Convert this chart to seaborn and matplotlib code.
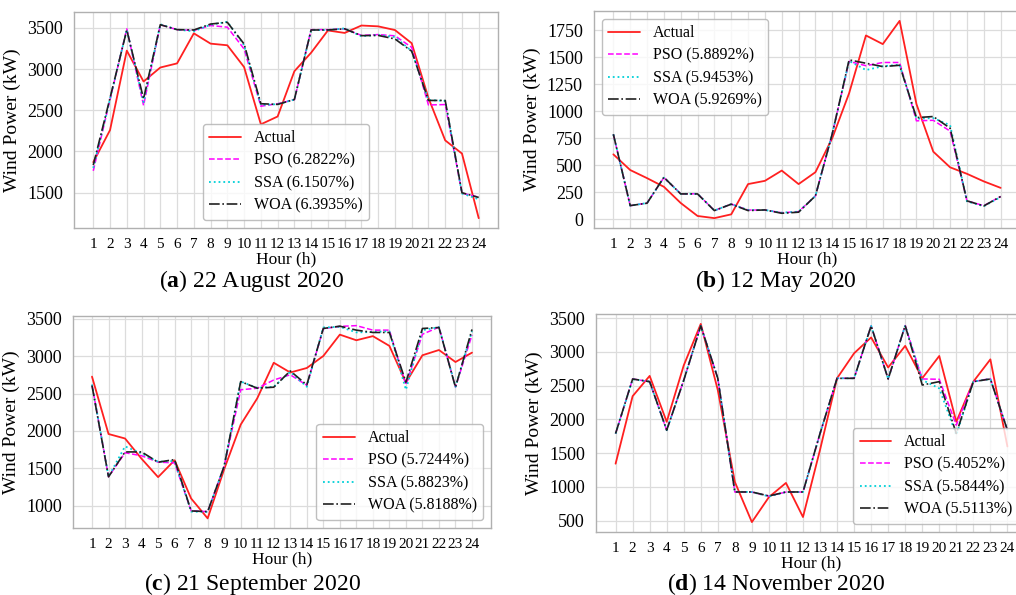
import numpy as np
import pandas as pd
import matplotlib
matplotlib.use("Agg")
import matplotlib.pyplot as plt
from matplotlib.ticker import MultipleLocator
import seaborn as sns

hours = list(range(1, 25))

a_actual = [1870, 2260, 3225, 2850, 3020, 3070, 3435, 3310, 3290, 3025, 2330, 2425, 2975, 3200, 3470, 3440, 3530, 3520, 3475, 3315, 2650, 2135, 1975, 1190]
a_pso = [1765, 2630, 3490, 2560, 3540, 3480, 3470, 3530, 3510, 3245, 2550, 2580, 2630, 3480, 3480, 3490, 3410, 3420, 3405, 3265, 2565, 2570, 1495, 1445]
a_ssa = [1800, 2640, 3480, 2600, 3545, 3480, 3460, 3540, 3575, 3290, 2565, 2575, 2630, 3475, 3475, 3495, 3400, 3415, 3390, 3220, 2625, 2615, 1490, 1420]
a_woa = [1835, 2650, 3476, 2640, 3540, 3480, 3476, 3548, 3569, 3306, 2580, 2572, 2632, 3476, 3476, 3490, 3407, 3410, 3367, 3218, 2620, 2620, 1499, 1442]

b_actual = [600, 455, 380, 300, 150, 30, 10, 45, 325, 355, 450, 325, 435, 750, 1165, 1700, 1620, 1835, 1065, 625, 480, 420, 350, 290]
b_pso = [785, 125, 150, 385, 235, 235, 80, 140, 85, 85, 60, 70, 215, 790, 1460, 1420, 1450, 1450, 910, 915, 815, 170, 125, 210]
b_ssa = [785, 125, 150, 385, 235, 235, 80, 140, 85, 85, 60, 70, 215, 790, 1465, 1380, 1415, 1430, 930, 935, 870, 165, 120, 205]
b_woa = [786, 126, 148, 388, 234, 234, 80, 139, 80, 86, 55, 65, 216, 790, 1474, 1443, 1412, 1424, 940, 950, 842, 170, 123, 210]

c_actual = [2725, 1960, 1900, 1630, 1385, 1610, 1100, 835, 1490, 2085, 2435, 2910, 2780, 2840, 3000, 3285, 3210, 3265, 3135, 2645, 3010, 3080, 2920, 3045]
c_pso = [2615, 1390, 1710, 1670, 1585, 1575, 935, 925, 1530, 2550, 2570, 2680, 2750, 2610, 3365, 3395, 3405, 3345, 3345, 2615, 3290, 3385, 2585, 3280]
c_ssa = [2620, 1390, 1795, 1700, 1590, 1600, 925, 920, 1530, 2660, 2575, 2590, 2790, 2590, 3380, 3390, 3315, 3320, 3330, 2550, 3345, 3385, 2590, 3330]
c_woa = [2605, 1389, 1721, 1721, 1584, 1619, 934, 925, 1531, 2659, 2571, 2584, 2801, 2615, 3367, 3398, 3345, 3314, 3314, 2650, 3367, 3380, 2584, 3354]

d_actual = [1345, 2345, 2645, 1965, 2800, 3415, 2435, 1075, 480, 850, 1060, 555, 1550, 2610, 2980, 3215, 2770, 3090, 2610, 2940, 1965, 2560, 2890, 1600]
d_pso = [1790, 2600, 2560, 1840, 2580, 3390, 2610, 925, 925, 865, 925, 925, 1790, 2610, 2610, 3385, 2600, 3390, 2600, 2595, 1915, 2560, 2605, 1840]
d_ssa = [1790, 2595, 2560, 1840, 2580, 3385, 2610, 930, 925, 860, 925, 925, 1790, 2610, 2610, 3385, 2600, 3390, 2585, 2460, 1770, 2560, 2600, 1840]
d_woa = [1792, 2599, 2560, 1842, 2580, 3386, 2609, 926, 926, 867, 926, 926, 1792, 2609, 2609, 3386, 2599, 3391, 2510, 2560, 1792, 2560, 2599, 1842]

a_errors = ["6.2822%", "6.1507%", "6.3935%"]
b_errors = ["5.8892%", "5.9453%", "5.9269%"]
c_errors = ["5.7244%", "5.8823%", "5.8188%"]
d_errors = ["5.4052%", "5.5844%", "5.5113%"]

captions = [r"($\mathbf{a}$) 22 August 2020", r"($\mathbf{b}$) 12 May 2020",
            r"($\mathbf{c}$) 21 September 2020", r"($\mathbf{d}$) 14 November 2020"]

sns.set_theme(style="whitegrid")
plt.rcParams["font.family"] = ["Liberation Serif", "DejaVu Serif"]
plt.rcParams["mathtext.fontset"] = "custom"
plt.rcParams["mathtext.rm"] = "Liberation Serif"
plt.rcParams["mathtext.bf"] = "Liberation Serif:bold"
plt.rcParams["axes.edgecolor"] = "#b0b0b0"
plt.rcParams["grid.color"] = "#dcdcdc"
plt.rcParams["axes.linewidth"] = 1.0
for k in ["text.color", "axes.labelcolor", "xtick.color", "ytick.color"]:
    plt.rcParams[k] = "black"

fig = plt.figure(figsize=(10.16, 5.95), dpi=100)
W, H = 1016, 595
def rect(l, t, r, b):
    return [l / W, 1 - b / H, (r - l) / W, (b - t) / H]

panels = [
    (rect(74, 12, 498, 228), a_actual, a_pso, a_ssa, a_woa, a_errors, 500,
     dict(loc="lower right", bbox_to_anchor=(0.696, 0.037), borderaxespad=0)),
    (rect(594, 11, 1020, 228), b_actual, b_pso, b_ssa, b_woa, b_errors, 250,
     dict(loc="upper left")),
    (rect(73, 316, 491, 528), c_actual, c_pso, c_ssa, c_woa, c_errors, 500,
     dict(loc="lower right")),
    (rect(596, 314, 1027, 532), d_actual, d_pso, d_ssa, d_woa, d_errors, 500,
     dict(loc="lower right")),
]
cap_pos = [(252, 287), (776, 287), (252, 590), (776, 590)]

for i, (r, act, pso, ssa, woa, errs, step, lkw) in enumerate(panels):
    ax = fig.add_axes(r)
    sns.lineplot(x=hours, y=act, ax=ax, color="#ff2020", linestyle="-", lw=1.3, label="Actual")
    sns.lineplot(x=hours, y=pso, ax=ax, color="#ff00ff", linestyle="--", lw=1.1, label=f"PSO ({errs[0]})")
    sns.lineplot(x=hours, y=ssa, ax=ax, color="#00d0d8", linestyle=":", lw=1.3, label=f"SSA ({errs[1]})")
    sns.lineplot(x=hours, y=woa, ax=ax, color="#202020", linestyle="-.", lw=1.2, label=f"WOA ({errs[2]})")
    ax.set_xticks(hours)
    ax.set_xticklabels([str(h) for h in hours], fontsize=11)
    ax.yaxis.set_major_locator(MultipleLocator(step))
    ax.tick_params(axis="y", labelsize=13, pad=2)
    ax.tick_params(axis="x", pad=1)
    ax.set_xlabel("Hour (h)", fontsize=12.5, labelpad=0.5)
    ax.set_ylabel("Wind Power (kW)", fontsize=14, labelpad=4)
    leg = ax.legend(fontsize=11.5, handlelength=2.0, handletextpad=0.8,
                    labelspacing=0.4, frameon=True, fancybox=True, **lkw)
    leg.get_frame().set_edgecolor("#b0b0b0")
    ax.grid(True, color="#dcdcdc", lw=0.9)
    cx, cy = cap_pos[i]
    fig.text(cx / W, 1 - cy / H, captions[i], ha="center", va="baseline", fontsize=17)

fig.savefig("out.png", dpi=100)
